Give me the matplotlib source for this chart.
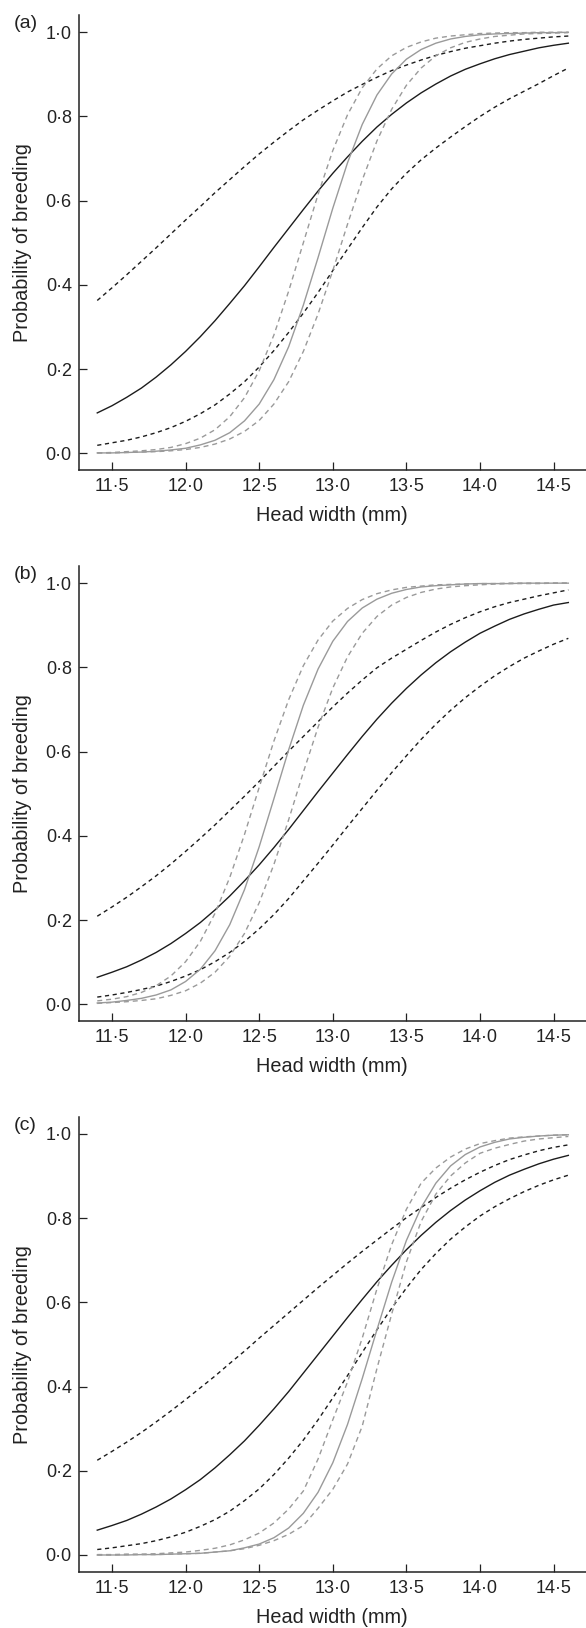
import numpy as np
import matplotlib.pyplot as plt

plt.rcParams["font.family"] = ["Liberation Sans", "DejaVu Sans"]

# sample grid along head width (mm)
head_width = np.linspace(11.4, 14.6, 33)

# (a) fitted probability and 95% limits, black model and grey model
a_black_fit = [0.096, 0.113, 0.133, 0.155, 0.181, 0.210, 0.242, 0.277, 0.315, 0.356, 0.398, 0.443, 0.489, 0.534, 0.579, 0.623, 0.665,
               0.704, 0.741, 0.775, 0.805, 0.832, 0.856, 0.877, 0.896, 0.912, 0.925, 0.937, 0.947, 0.955, 0.963, 0.969, 0.974]
a_black_hi = [0.363, 0.393, 0.424, 0.456, 0.488, 0.521, 0.554, 0.586, 0.619, 0.650, 0.681, 0.711, 0.739, 0.766, 0.792, 0.815, 0.837,
              0.858, 0.876, 0.893, 0.909, 0.922, 0.934, 0.945, 0.954, 0.962, 0.968, 0.974, 0.979, 0.983, 0.986, 0.989, 0.991]
a_black_lo = [0.019, 0.025, 0.031, 0.039, 0.049, 0.061, 0.076, 0.094, 0.115, 0.141, 0.170, 0.205, 0.244, 0.287, 0.333, 0.382, 0.434,
              0.485, 0.536, 0.585, 0.628, 0.665, 0.697, 0.725, 0.751, 0.776, 0.800, 0.822, 0.842, 0.860, 0.878, 0.897, 0.915]
a_grey_fit = [0.001, 0.001, 0.002, 0.003, 0.005, 0.008, 0.012, 0.020, 0.031, 0.049, 0.077, 0.117, 0.175, 0.253, 0.352, 0.465, 0.582,
              0.690, 0.781, 0.851, 0.901, 0.936, 0.959, 0.974, 0.984, 0.990, 0.994, 0.996, 0.997, 0.998, 0.999, 0.999, 1.000]
a_grey_hi = [0.001, 0.002, 0.004, 0.006, 0.009, 0.014, 0.023, 0.036, 0.056, 0.087, 0.132, 0.196, 0.281, 0.385, 0.500, 0.615, 0.719,
             0.804, 0.868, 0.913, 0.944, 0.964, 0.977, 0.986, 0.991, 0.994, 0.997, 0.998, 0.999, 0.999, 1.000, 1.000, 1.000]
a_grey_lo = [0.001, 0.001, 0.002, 0.003, 0.004, 0.006, 0.009, 0.014, 0.022, 0.034, 0.052, 0.078, 0.117, 0.170, 0.242, 0.331, 0.434,
             0.544, 0.649, 0.742, 0.817, 0.874, 0.915, 0.944, 0.963, 0.976, 0.984, 0.990, 0.993, 0.996, 0.997, 0.998, 0.999]

# (b)
b_black_fit = [0.064, 0.076, 0.089, 0.105, 0.123, 0.144, 0.168, 0.194, 0.224, 0.257, 0.293, 0.331, 0.372, 0.415, 0.460, 0.505, 0.549,
               0.593, 0.636, 0.677, 0.715, 0.750, 0.782, 0.811, 0.837, 0.860, 0.881, 0.898, 0.914, 0.927, 0.938, 0.948, 0.954]
b_black_hi = [0.209, 0.231, 0.254, 0.279, 0.305, 0.333, 0.363, 0.394, 0.426, 0.460, 0.494, 0.529, 0.565, 0.601, 0.636, 0.671, 0.706,
              0.739, 0.770, 0.799, 0.822, 0.843, 0.864, 0.884, 0.902, 0.918, 0.932, 0.944, 0.954, 0.962, 0.970, 0.977, 0.984]
b_black_lo = [0.017, 0.022, 0.028, 0.035, 0.043, 0.054, 0.067, 0.082, 0.101, 0.123, 0.149, 0.179, 0.213, 0.251, 0.293, 0.335, 0.378,
              0.422, 0.465, 0.508, 0.550, 0.590, 0.629, 0.665, 0.698, 0.728, 0.755, 0.780, 0.802, 0.822, 0.839, 0.855, 0.869]
b_grey_fit = [0.003, 0.005, 0.009, 0.014, 0.022, 0.034, 0.054, 0.083, 0.127, 0.189, 0.272, 0.374, 0.488, 0.604, 0.710, 0.796, 0.862,
              0.909, 0.941, 0.962, 0.976, 0.985, 0.991, 0.994, 0.996, 0.998, 0.999, 0.999, 0.999, 1.000, 1.000, 1.000, 1.000]
b_grey_hi = [0.008, 0.012, 0.018, 0.028, 0.044, 0.067, 0.101, 0.149, 0.216, 0.301, 0.403, 0.515, 0.625, 0.723, 0.804, 0.865, 0.910,
             0.940, 0.961, 0.975, 0.984, 0.990, 0.993, 0.996, 0.997, 0.998, 0.999, 0.999, 1.000, 1.000, 1.000, 1.000, 1.000]
b_grey_lo = [0.002, 0.004, 0.006, 0.009, 0.013, 0.021, 0.032, 0.050, 0.076, 0.114, 0.168, 0.241, 0.332, 0.438, 0.551, 0.658, 0.751,
             0.825, 0.881, 0.921, 0.948, 0.966, 0.978, 0.986, 0.991, 0.994, 0.996, 0.998, 0.999, 0.999, 0.999, 1.000, 1.000]

# (c)
c_black_fit = [0.059, 0.070, 0.082, 0.097, 0.114, 0.133, 0.155, 0.179, 0.207, 0.238, 0.271, 0.308, 0.347, 0.388, 0.432, 0.476, 0.520,
               0.564, 0.607, 0.649, 0.688, 0.725, 0.759, 0.790, 0.818, 0.843, 0.865, 0.885, 0.902, 0.916, 0.929, 0.940, 0.949]
c_black_hi = [0.225, 0.246, 0.268, 0.291, 0.316, 0.342, 0.369, 0.397, 0.425, 0.455, 0.484, 0.515, 0.545, 0.575, 0.605, 0.635, 0.664,
              0.693, 0.721, 0.748, 0.775, 0.801, 0.825, 0.849, 0.871, 0.891, 0.909, 0.925, 0.939, 0.950, 0.960, 0.968, 0.974]
c_black_lo = [0.013, 0.017, 0.022, 0.027, 0.034, 0.043, 0.054, 0.068, 0.084, 0.104, 0.129, 0.157, 0.191, 0.230, 0.273, 0.321, 0.373,
              0.426, 0.481, 0.535, 0.586, 0.634, 0.678, 0.716, 0.750, 0.779, 0.805, 0.827, 0.846, 0.863, 0.878, 0.891, 0.902]
c_grey_fit = [0.000, 0.000, 0.000, 0.001, 0.001, 0.002, 0.003, 0.004, 0.007, 0.010, 0.017, 0.026, 0.041, 0.064, 0.099, 0.149, 0.219,
              0.310, 0.419, 0.535, 0.648, 0.747, 0.825, 0.883, 0.924, 0.951, 0.969, 0.980, 0.988, 0.992, 0.995, 0.997, 0.998]
c_grey_hi = [0.001, 0.001, 0.002, 0.002, 0.003, 0.005, 0.007, 0.011, 0.016, 0.024, 0.036, 0.052, 0.076, 0.109, 0.152, 0.228, 0.321,
             0.411, 0.515, 0.632, 0.737, 0.821, 0.883, 0.919, 0.945, 0.964, 0.977, 0.984, 0.990, 0.993, 0.995, 0.997, 0.998]
c_grey_lo = [0.000, 0.000, 0.001, 0.001, 0.001, 0.002, 0.003, 0.004, 0.007, 0.010, 0.015, 0.023, 0.034, 0.049, 0.070, 0.111, 0.156,
             0.216, 0.306, 0.443, 0.572, 0.696, 0.792, 0.857, 0.900, 0.931, 0.954, 0.966, 0.975, 0.983, 0.988, 0.991, 0.994]

x_ticks = [11.5, 12.0, 12.5, 13.0, 13.5, 14.0, 14.5]
y_ticks = [0.0, 0.2, 0.4, 0.6, 0.8, 1.0]

panels = [
    ("(a)", a_black_fit, a_black_lo, a_black_hi, a_grey_fit, a_grey_lo, a_grey_hi),
    ("(b)", b_black_fit, b_black_lo, b_black_hi, b_grey_fit, b_grey_lo, b_grey_hi),
    ("(c)", c_black_fit, c_black_lo, c_black_hi, c_grey_fit, c_grey_lo, c_grey_hi),
]


def dot(v):
    return f"{v:.1f}".replace(".", "\u00b7")


black = "#1c1c1c"
grey = "#9a9a9a"
black_dash = (0, (3.0, 2.6))
grey_dash = (0, (3.6, 2.8))

fig = plt.figure(figsize=(5.86, 16.28), dpi=100)
bottoms = [0.7113, 0.3729, 0.0346]
label_y = [1 - 28.3 / 1628, 1 - 579.3 / 1628, 1 - 1130.5 / 1628]

for (name, bfit, blo, bhi, gfit, glo, ghi), bottom, ly in zip(panels, bottoms, label_y):
    ax = fig.add_axes([0.1343, bottom, 0.8657, 0.2795])

    ax.plot(head_width, bhi, color=black, lw=1.0, ls=black_dash)
    ax.plot(head_width, blo, color=black, lw=1.0, ls=black_dash)
    ax.plot(head_width, bfit, color=black, lw=1.0)
    ax.plot(head_width, ghi, color=grey, lw=1.0, ls=grey_dash)
    ax.plot(head_width, glo, color=grey, lw=1.0, ls=grey_dash)
    ax.plot(head_width, gfit, color=grey, lw=1.0)

    ax.set_xlim(11.274, 14.72)
    ax.set_ylim(-0.0396, 1.041)
    ax.spines[["top", "right"]].set_visible(False)
    for side in ["left", "bottom"]:
        ax.spines[side].set_linewidth(1.1)
        ax.spines[side].set_color("#222222")

    ax.set_xticks(x_ticks)
    ax.set_xticklabels([dot(t) for t in x_ticks])
    ax.set_yticks(y_ticks)
    ax.set_yticklabels([dot(t) for t in y_ticks])
    ax.tick_params(direction="in", length=5.5, width=0.9, color="#222222",
                   labelsize=13, labelcolor="#222222")
    ax.tick_params(axis="y", pad=5)
    ax.tick_params(axis="x", pad=6)

    ax.set_xlabel("Head width (mm)", fontsize=14.3, color="#222222", va="top")
    ax.xaxis.set_label_coords(0.5, -0.079)
    ax.set_ylabel("Probability of breeding", fontsize=14.3, color="#222222")
    ax.yaxis.set_label_coords(-0.092, 0.5)

    fig.text(0.024, ly, name, fontsize=14, color="#222222", va="baseline")

fig.savefig("out.png", dpi=100)
